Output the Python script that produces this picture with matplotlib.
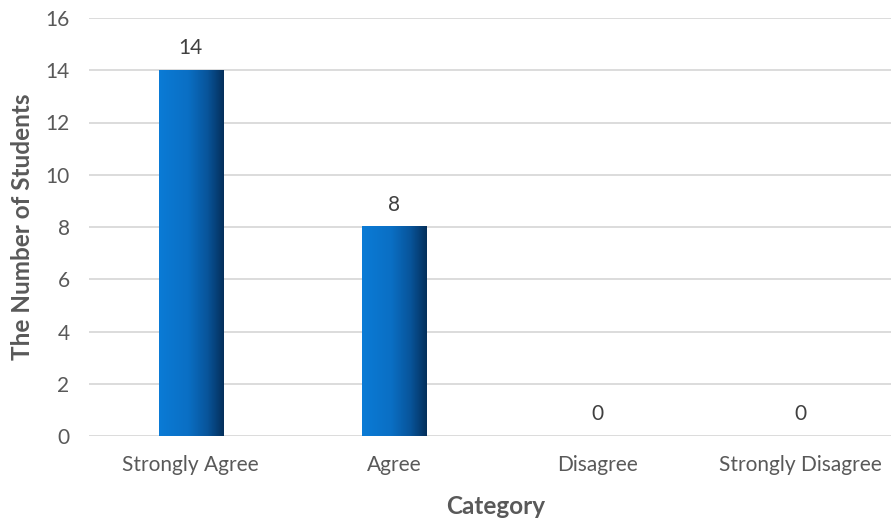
import matplotlib
matplotlib.use('Agg')
import matplotlib.pyplot as plt
import numpy as np
from matplotlib.colors import LinearSegmentedColormap

categories = ['Strongly Agree', 'Agree', 'Disagree', 'Strongly Disagree']
students = [14, 8, 0, 0]
yticks = [0, 2, 4, 6, 8, 10, 12, 14, 16]

plt.rcParams['font.family'] = ['Lato', 'DejaVu Sans']
grey = '#595959'

fig = plt.figure(figsize=(8.91, 5.22), dpi=100)
ax = fig.add_axes([89/891, 1 - 436/522, 813/891, (436 - 18)/522])

x = np.arange(len(categories))
bars = ax.bar(x, students, width=0.315, color='none', zorder=3)

# horizontal gradient inside each bar
cmap = LinearSegmentedColormap.from_list('bargrad', [(0, '#0b7bd6'), (0.45, '#0a6fc4'), (0.75, '#08549a'), (1, '#042f5a')])
grad = np.linspace(0, 1, 256).reshape(1, -1)
for b in bars:
    if b.get_height() > 0:
        ax.imshow(grad, cmap=cmap, aspect='auto', zorder=3,
                  extent=[b.get_x(), b.get_x() + b.get_width(), 0, b.get_height()])

for xi, v in zip(x, students):
    ax.text(xi, v + 0.45, str(v), ha='center', va='bottom', fontsize=15, color='#404040')

ax.set_xlim(-0.5, len(categories) - 0.5)
ax.set_ylim(0, 16)
ax.set_yticks(yticks)
ax.set_xticks(x)
ax.set_xticklabels(categories)
ax.grid(axis='y', color='#d9d9d9', linewidth=1.3, zorder=0)
ax.tick_params(axis='y', length=0, pad=14, labelsize=15, labelcolor=grey)
ax.tick_params(axis='x', length=0, pad=14, labelsize=15, labelcolor=grey)
for s in ax.spines.values():
    s.set_visible(False)

ax.set_ylabel('The Number of Students', fontsize=17.5, fontweight='bold', color=grey, labelpad=8)
ax.set_xlabel('Category', fontsize=17.5, fontweight='bold', color=grey, labelpad=14)

fig.savefig('out.png', dpi=100)
